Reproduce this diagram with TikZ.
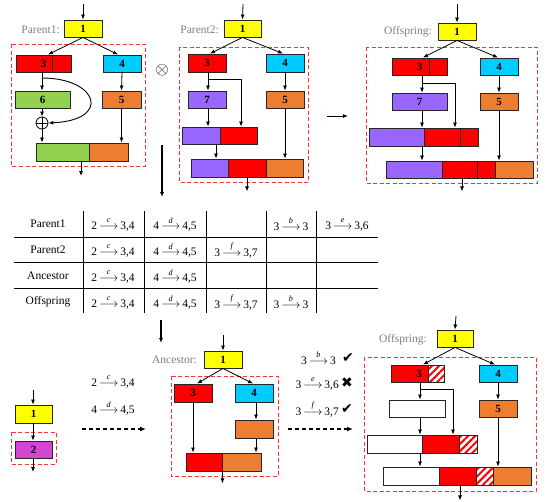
\documentclass[tikz,border=0pt]{standalone}
\usepackage{amsmath}
\usepackage{fontspec}
\setmainfont{Liberation Serif}
\newfontfamily\dejavu{DejaVu Sans}
\usetikzlibrary{arrows.meta,patterns.meta}
\definecolor{cyel}{RGB}{255,255,0}
\definecolor{cred}{RGB}{255,0,0}
\definecolor{ccyan}{RGB}{0,204,255}
\definecolor{cgreen}{RGB}{146,208,80}
\definecolor{corange}{RGB}{237,125,49}
\definecolor{cpurple}{RGB}{153,102,255}
\definecolor{cmag}{RGB}{210,70,210}
\definecolor{cdash}{RGB}{255,50,50}
\definecolor{clabel}{RGB}{125,125,135}
\newcommand\trans[3]{#1\,$\overset{\mathit{#2}}{\longrightarrow}$\,#3}
\begin{document}
\begin{tikzpicture}[x=1pt,y=-1pt,
  box/.style={draw=black!85, line width=0.9pt, inner sep=0pt, minimum height=17,
    font=\bfseries\fontsize{11}{11}\selectfont},
  arr/.style={-{Latex[length=5pt,width=4pt]}, line width=0.8pt},
  grp/.style={draw=cdash, dash pattern=on 4pt off 2.5pt, line width=1pt},
  lbl/.style={text=clabel, font=\fontsize{11.5}{12}\selectfont, anchor=east, inner sep=0pt},
  hatch/.style={box, preaction={fill=white}, pattern={Lines[angle=45,distance=5pt,line width=2pt]}, pattern color=cred},
  dasharr/.style={-{Latex[length=6pt,width=5pt]}, line width=1.3pt, dash pattern=on 4pt off 3pt},
  cell/.style={font=\fontsize{11.5}{12}\selectfont, inner sep=0pt},
  ckmark/.style={font=\dejavu\fontsize{14}{14}\selectfont, inner sep=0pt}
]
\useasboundingbox (0,0) rectangle (549,501);

% ================= Parent1 =================
\draw[grp] (11,44) rectangle (145,166);
\coordinate (p1top) at (83,4);
\node[box, fill=cyel, minimum width=38] (p1n1) at (83,28.5) {1};
\node[lbl] (p1lab) at (60,30) {Parent1:};
\node[box, fill=cred, minimum width=55] (p1n3) at (43.5,63.5) {3};
\draw[line width=0.9pt, black!85] (p1n3.north west) ++(37,0) -- ++(0,17);
\node[box, fill=ccyan, minimum width=38] (p1n4) at (122,63.5) {4};
\node[box, fill=cgreen, minimum width=55] (p1n6) at (42.5,99.5) {6};
\node[box, fill=corange, minimum width=39] (p1n5) at (121.5,99.5) {5};
\node[circle, draw=black, line width=0.8pt, minimum size=12, inner sep=0pt,
  path picture={\draw[line width=0.8pt] (path picture bounding box.north) -- (path picture bounding box.south)
  (path picture bounding box.west) -- (path picture bounding box.east);}] (p1op) at (42,123) {};
\node[box, fill=cgreen, minimum width=53, minimum height=18] (p1bg) at (62.5,152) {};
\node[box, fill=corange, minimum width=39, minimum height=18] (p1bo) at (108.5,152) {};
\coordinate (p1cv) at (42,78);
\coordinate (p1end) at (81,176);
\draw[arr] (p1top) -- (p1n1.north);
\draw[arr] (p1n1.south) -- ([xshift=4.5]p1n3.north);
\draw[arr] (p1n1.south) -- ([xshift=-4]p1n4.north);
\draw[arr] (p1n3.south -| p1op) -- (p1n6.north -| p1op);
\draw[arr] (p1n6.south -| p1op) -- (p1op.north);
\draw[arr] (p1op.south) -- (p1bg.north -| p1op);
\draw[arr, line width=0.9pt] (p1cv) .. controls (98,78) and (112,120) .. (p1op.east);
\draw[arr] (p1n4.south) -- (p1n5.north);
\draw[arr] (p1n5.south) -- (p1n5.south |- p1bo.north);
\draw[arr] (p1end |- p1bg.south) -- (p1end);

\node (otimes) at (162,70) {\fontsize{16}{16}\selectfont$\otimes$};

% ================= Parent2 =================
\draw[grp] (179,47) rectangle (308,182);
\coordinate (p2top) at (243,4);
\node[box, fill=cyel, minimum width=37] (p2n1) at (242.5,28.5) {1};
\node[lbl] (p2lab) at (219,30) {Parent2:};
\node[box, fill=cred, minimum width=38, minimum height=18] (p2n3) at (207,63) {3};
\node[box, fill=ccyan, minimum width=38, minimum height=18] (p2n4) at (285,63) {4};
\node[box, fill=cpurple, minimum width=38] (p2n7) at (207,99.5) {7};
\node[box, fill=corange, minimum width=38] (p2n5) at (285,99.5) {5};
\node[box, fill=cpurple, minimum width=38] (p2b2p) at (201,135.5) {};
\node[box, fill=cred, minimum width=37] (p2b2r) at (238.5,135.5) {};
\node[box, fill=cpurple, minimum width=37, minimum height=18] (p2b3p) at (209.5,168) {};
\node[box, fill=cred, minimum width=38, minimum height=18] (p2b3r) at (247,168) {};
\node[box, fill=corange, minimum width=37, minimum height=18] (p2b3o) at (284.5,168) {};
\coordinate (p2br) at (208,79);
\draw[arr] (p2top) -- (p2n1.north);
\draw[arr] (p2n1.south) -- ([xshift=3]p2n3.north);
\draw[arr] (p2n1.south) -- ([xshift=-2]p2n4.north);
\draw[arr] (p2n3.south -| p2br) -- (p2n7.north -| p2br);
\draw[arr] (p2br) -| ([xshift=2.5]p2b2r.north);
\draw[arr] (p2n7.south -| p2br) -- (p2b2p.north -| p2br);
\draw[arr] ([xshift=15]p2b2p.south) -- ([xshift=15]p2b2p.south |- p2b3p.north);
\draw[arr] (p2n4.south) -- (p2n5.north);
\draw[arr] (p2n5.south) -- (p2n5.south |- p2b3o.north);
\draw[arr] (p2b3r.south) -- ++(0,14);

\coordinate (rarrA) at (327,116);
\coordinate (rarrB) at (348,116);
\draw[arr] (rarrA) -- (rarrB);

% ================= Offspring (top) =================
\draw[grp] (366,47) rectangle (537,183);
\coordinate (o1top) at (457,4);
\node[box, fill=cyel, minimum width=38] (o1n1) at (457,31.5) {1};
\node[lbl] (o1lab) at (432,32) {Offspring:};
\node[box, fill=cred, minimum width=55] (o1n3) at (419.5,66.5) {3};
\draw[line width=0.9pt, black!85] (o1n3.north west) ++(38,0) -- ++(0,17);
\node[box, fill=ccyan, minimum width=38] (o1n4) at (499,66.5) {4};
\node[box, fill=cpurple, minimum width=55] (o1n7) at (419.5,101.5) {7};
\node[box, fill=corange, minimum width=38] (o1n5) at (499,101.5) {5};
\node[box, fill=cpurple, minimum width=55, minimum height=18] (o1b2p) at (396.5,137) {};
\node[box, fill=cred, minimum width=54, minimum height=18] (o1b2r) at (451,137) {};
\draw[line width=0.9pt, black!85] (o1b2r.north west) ++(37,0) -- ++(0,18);
\node[box, fill=cpurple, minimum width=56] (o1b3p) at (414,169.5) {};
\node[box, fill=cred, minimum width=53] (o1b3r) at (468.5,169.5) {};
\draw[line width=0.9pt, black!85] (o1b3r.north west) ++(36,0) -- ++(0,17);
\node[box, fill=corange, minimum width=38] (o1b3o) at (514,169.5) {};
\coordinate (o1br) at (422,83);
\draw[arr] (o1top) -- (o1n1.north);
\draw[arr] (o1n1.south) -- ([xshift=3.5]o1n3.north);
\draw[arr] (o1n1.south) -- ([xshift=-1]o1n4.north);
\draw[arr] (o1n3.south -| o1br) -- (o1n7.north -| o1br);
\draw[arr] (o1br) -| ([xshift=4]o1b2r.north);
\draw[arr] (o1n7.south -| o1br) -- (o1b2p.north -| o1br);
\draw[arr] (o1b2p.south -| o1br) -- (o1b3p.north -| o1br);
\draw[arr] (o1n4.south) -- (o1n5.north);
\draw[arr] (o1n5.south) -- (o1n5.south |- o1b3o.north);
\draw[arr] ([xshift=-6.5]o1b3r.south) -- ++(0,13);

% ================= down arrow to table =================
\coordinate (dA) at (162,145);
\coordinate (dB) at (162,197);
\draw[arr, line width=1.2pt] (dA) -- (dB);

% ================= Table =================
\foreach \y in {237,262,288} \draw[line width=0.8pt] (14,\y) -- (378,\y);
\foreach \x in {83,144,206,266,316} \draw[line width=0.8pt] (\x,211) -- (\x,313);
\node[cell] (tr1) at (48,224) {Parent1};
\node[cell] (tr2) at (48,250) {Parent2};
\node[cell] (tr3) at (48,276) {Ancestor};
\node[cell] (tr4) at (48,302) {Offspring};
\node[cell] (t11) at (113,224) {\trans{2}{c}{3,4}};
\node[cell] (t12) at (175,224) {\trans{4}{d}{4,5}};
\node[cell] (t14) at (291,224) {\trans{3}{b}{3}};
\node[cell] (t15) at (347,224) {\trans{3}{e}{3,6}};
\node[cell] (t21) at (113,250) {\trans{2}{c}{3,4}};
\node[cell] (t22) at (175,250) {\trans{4}{d}{4,5}};
\node[cell] (t23) at (236,250) {\trans{3}{f}{3,7}};
\node[cell] (t31) at (113,276) {\trans{2}{c}{3,4}};
\node[cell] (t32) at (175,276) {\trans{4}{d}{4,5}};
\node[cell] (t41) at (113,302) {\trans{2}{c}{3,4}};
\node[cell] (t42) at (175,302) {\trans{4}{d}{4,5}};
\node[cell] (t43) at (236,302) {\trans{3}{f}{3,7}};
\node[cell] (t44) at (291,302) {\trans{3}{b}{3}};

\coordinate (d2A) at (161,320);
\coordinate (d2B) at (161,343);
\draw[arr, line width=1.2pt] (d2A) -- (d2B);

% ================= bottom left =================
\coordinate (bltop) at (33,390);
\draw[grp] (11,432) rectangle (56,464);
\node[box, fill=cyel, minimum width=37, minimum height=18] (bl1) at (33.5,414) {1};
\node[box, fill=cmag, minimum width=37] (bl2) at (33.5,449.5) {2};
\coordinate (blend) at (33,472);
\draw[arr] (bltop) -- (bltop |- bl1.north);
\draw[arr] (bl1.south -| bltop) -- (bl2.north -| bltop);
\draw[arr] (bl2.south -| bltop) -- (blend);
\node[cell] (bf1) at (113,381) {\trans{2}{c}{3,4}};
\node[cell] (bf2) at (113,408) {\trans{4}{d}{4,5}};
\coordinate (da1A) at (82,429);
\coordinate (da1B) at (146,429);
\draw[dasharr] (da1A) -- (da1B);

% ================= Ancestor =================
\draw[grp] (171,376) rectangle (278,476);
\coordinate (antop) at (223,335);
\node[box, fill=cyel, minimum width=38] (an1) at (223,359.5) {1};
\node[lbl] (anlab) at (197,360) {Ancestor:};
\node[box, fill=cred, minimum width=38, minimum height=18] (an3) at (193,393) {3};
\node[box, fill=ccyan, minimum width=38, minimum height=18] (an4) at (254,393) {4};
\node[box, fill=corange, minimum width=38, minimum height=18] (an5) at (254,429) {};
\node[box, fill=cred, minimum width=36, minimum height=18] (anbr) at (204,462) {};
\node[box, fill=corange, minimum width=39, minimum height=18] (anbo) at (241.5,462) {};
\draw[arr] (antop) -- (an1.north);
\draw[arr] (an1.south) -- ([xshift=4]an3.north);
\draw[arr] (an1.south) -- ([xshift=-1]an4.north);
\draw[arr] (an3.south) -- (an3.south |- anbr.north);
\draw[arr] ([xshift=2]an4.south) -- ([xshift=2]an5.north);
\draw[arr] ([xshift=2]an5.south) -- ([xshift=2]an5.south |- anbo.north);
\draw[arr] (anbr.south east) -- ++(0,12);

\coordinate (da2A) at (288,429);
\coordinate (da2B) at (353,429);
\draw[dasharr] (da2A) -- (da2B);

% ================= check list =================
\node[cell, anchor=east] (ck1) at (336,358) {\trans{3}{b}{3}};
\node[ckmark] (ck1m) at (348,358) {✔};
\node[cell, anchor=east] (ck2) at (339,383) {\trans{3}{e}{3,6}};
\node[ckmark] (ck2m) at (347,383) {✖};
\node[cell, anchor=east] (ck3) at (339,409) {\trans{3}{f}{3,7}};
\node[ckmark] (ck3m) at (347,409) {✔};

% ================= Offspring (bottom) =================
\draw[grp] (364,357) rectangle (536,491);
\coordinate (o2top) at (456,316);
\node[box, fill=cyel, minimum width=36] (o2n1) at (455,338.5) {1};
\node[lbl] (o2lab) at (427,340) {Offspring:};
\node[box, fill=cred, minimum width=53] (o2n3) at (417.5,373.5) {\hspace*{3pt}3};
\node[hatch, minimum width=16] (o2n3h) at (436,373.5) {};
\node[box, fill=ccyan, minimum width=38] (o2n4) at (498,373.5) {4};
\node[box, fill=white, minimum width=56] (o2n7) at (417,408.5) {};
\node[box, fill=corange, minimum width=38] (o2n5) at (498,408.5) {5};
\node[box, fill=white, minimum width=55, minimum height=18] (o2b2w) at (394.5,444) {};
\node[box, fill=cred, minimum width=37, minimum height=18] (o2b2r) at (440.5,444) {};
\node[hatch, minimum width=18, minimum height=18] (o2b2h) at (468,444) {};
\node[box, fill=white, minimum width=56, minimum height=18] (o2b3w) at (411,476) {};
\node[box, fill=cred, minimum width=37, minimum height=18] (o2b3r) at (457.5,476) {};
\node[hatch, minimum width=17, minimum height=18] (o2b3h) at (484.5,476) {};
\node[box, fill=corange, minimum width=38, minimum height=18] (o2b3o) at (512,476) {};
\coordinate (o2br) at (420,389);
\draw[arr] (o2top) -- (o2n1.north);
\draw[arr] (o2n1.south) -- ([xshift=5.5]o2n3.north);
\draw[arr] (o2n1.south) -- ([xshift=-3]o2n4.north);
\draw[arr] (o2n3.south -| o2br) -- (o2n7.north -| o2br);
\draw[arr] (o2br) -| ([xshift=12.5]o2b2r.north);
\draw[arr] (o2n7.south -| o2br) -- (o2b2w.north -| o2br);
\draw[arr] (o2b2w.south -| o2br) -- (o2b3w.north -| o2br);
\draw[arr] (o2n4.south) -- (o2n5.north);
\draw[arr] (o2n5.south) -- (o2n5.south |- o2b3o.north);
\draw[arr] ([xshift=2.5]o2b3r.south) -- ++(0,15);
\end{tikzpicture}
\end{document}
